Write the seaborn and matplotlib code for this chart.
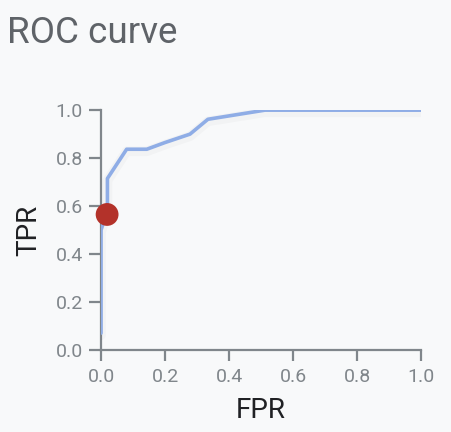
import matplotlib
matplotlib.use("Agg")
import matplotlib.pyplot as plt
import matplotlib.patheffects as pe
import pandas as pd
import seaborn as sns

fpr = [0.0, 0.0, 0.02, 0.02, 0.08, 0.143, 0.2, 0.278, 0.334, 0.512, 1.0]
tpr = [0.07, 0.5, 0.58, 0.715, 0.837, 0.837, 0.865, 0.9, 0.962, 1.0, 1.0]
point_fpr = [0.019]
point_tpr = [0.565]
ticks = [0.0, 0.2, 0.4, 0.6, 0.8, 1.0]

curve = pd.DataFrame({"FPR": fpr, "TPR": tpr})
point = pd.DataFrame({"FPR": point_fpr, "TPR": point_tpr})

bg = "#f8f9fa"
axis_grey = "#80868b"

sns.set_style("ticks")
plt.rcParams["font.family"] = ["Roboto", "DejaVu Sans"]

fig = plt.figure(figsize=(4.52, 4.32), dpi=100, facecolor=bg)
ax = fig.add_axes([0.2235, 0.19, 0.708, 0.555], facecolor=bg)

shadow = [pe.SimpleLineShadow(offset=(0, -1.5), shadow_color="#000000", alpha=0.025, linewidth=7),
          pe.Normal()]
sns.lineplot(data=curve, x="FPR", y="TPR", sort=False, estimator=None, ax=ax,
             color="#8fade6", linewidth=2.6, zorder=3)
ax.lines[-1].set_path_effects(shadow)
sns.scatterplot(data=point, x="FPR", y="TPR", ax=ax, color="#b3322a", s=270,
                edgecolor="none", zorder=4, clip_on=False)

ax.set_xlim(0, 1)
ax.set_ylim(0, 1)
ax.set_xticks(ticks)
ax.set_yticks(ticks)
ax.set_xticklabels([f"{t:.1f}" for t in ticks])
ax.set_yticklabels([f"{t:.1f}" for t in ticks])

for side in ["top", "right"]:
    ax.spines[side].set_visible(False)
for side in ["left", "bottom"]:
    ax.spines[side].set_color(axis_grey)
    ax.spines[side].set_linewidth(1.6)
ax.tick_params(axis="both", colors=axis_grey, labelcolor=axis_grey, labelsize=14,
               length=8, width=1.6)
ax.tick_params(axis="y", length=9, pad=4)
ax.tick_params(axis="x", pad=5)

ax.set_xlabel("FPR", fontsize=20, color="#202124", labelpad=8)
ax.set_ylabel("TPR", fontsize=20, color="#202124", labelpad=10)
fig.text(0.016, 0.965, "ROC curve", fontsize=26.5, color="#5f6368", va="top", ha="left")

fig.savefig("out.png", dpi=100, facecolor=bg)
